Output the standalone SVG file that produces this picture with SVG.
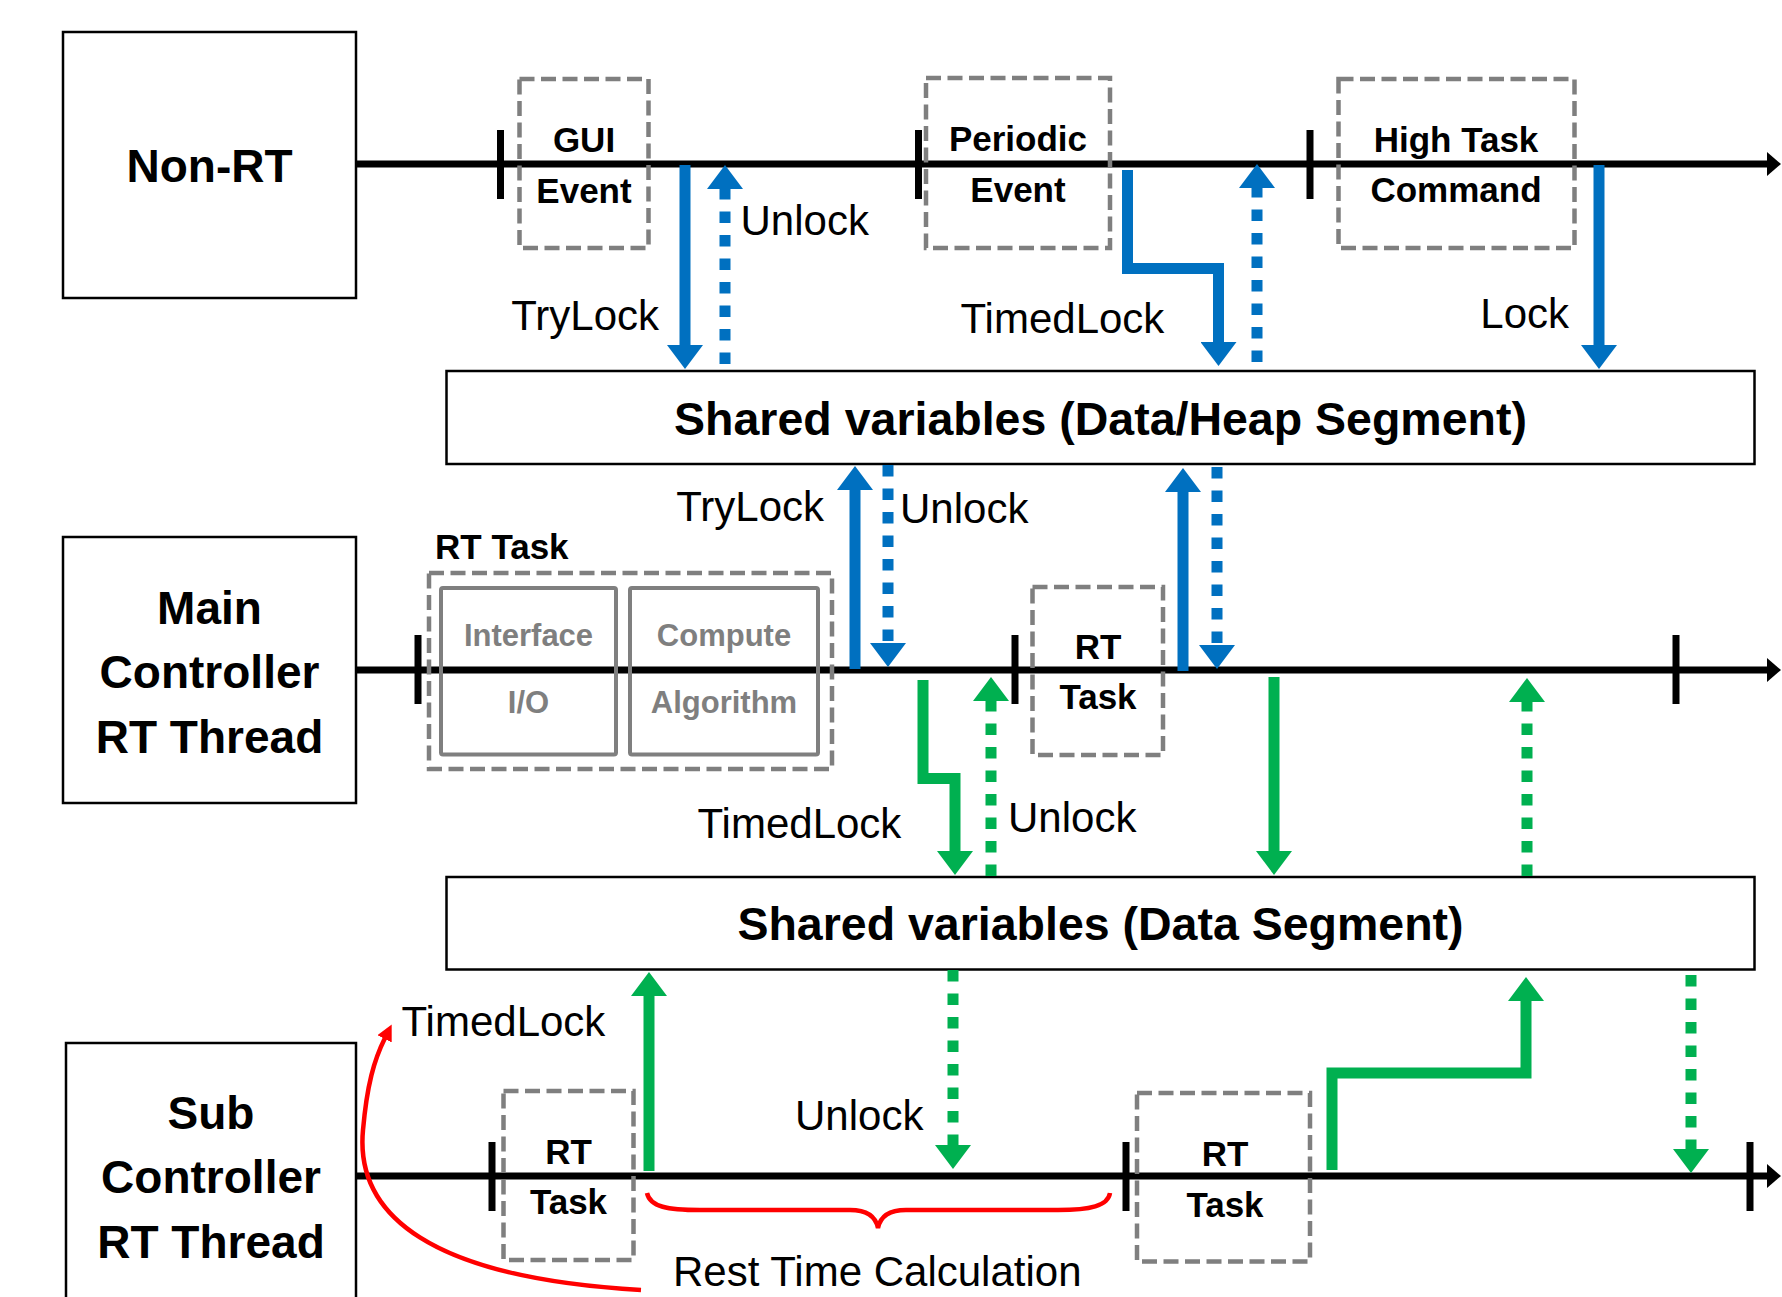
<svg xmlns="http://www.w3.org/2000/svg" width="1782" height="1297" viewBox="0 0 1782 1297">
<style>
.box{fill:#fff;stroke:#000;stroke-width:2.5}
.dbox{fill:none;stroke:#7f7f7f;stroke-width:4.5;stroke-dasharray:15 6.5}
.gbox{fill:none;stroke:#7f7f7f;stroke-width:4}
.tl{stroke:#000;stroke-width:7;fill:none}
.tick{stroke:#000;stroke-width:7}
.big{font-family:"Liberation Sans",Arial,sans-serif;font-weight:bold;font-size:46px;fill:#000}
.shared{font-family:"Liberation Sans",Arial,sans-serif;font-weight:bold;font-size:46.5px;fill:#000}
.lbl{font-family:"Liberation Sans",Arial,sans-serif;font-weight:bold;font-size:35px;fill:#000}
.glbl{font-family:"Liberation Sans",Arial,sans-serif;font-weight:bold;font-size:31px;fill:#7f7f7f}
.reg{font-family:"Liberation Sans",Arial,sans-serif;font-size:42px;fill:#000}
.mid{text-anchor:middle}
.end{text-anchor:end}
.b{stroke:#0070c0;stroke-width:11;fill:none}
.g{stroke:#00b050;stroke-width:11;fill:none}
.dot{stroke-dasharray:11.5 12}
.red{stroke:#ff0000;stroke-width:4.5;fill:none}
</style>
<defs>
<marker id="hb" markerUnits="userSpaceOnUse" markerWidth="24" markerHeight="36" viewBox="0 0 24 36" refX="1" refY="18" orient="auto"><path d="M0,0 L24,18 L0,36 z" fill="#0070c0"/></marker>
<marker id="hg" markerUnits="userSpaceOnUse" markerWidth="24" markerHeight="36" viewBox="0 0 24 36" refX="1" refY="18" orient="auto"><path d="M0,0 L24,18 L0,36 z" fill="#00b050"/></marker>
<marker id="hk" markerUnits="userSpaceOnUse" markerWidth="14" markerHeight="24" viewBox="0 0 14 24" refX="1" refY="12" orient="auto"><path d="M0,0 L14,12 L0,24 z" fill="#000"/></marker>
<marker id="hr" markerUnits="userSpaceOnUse" markerWidth="16" markerHeight="16" viewBox="0 0 16 16" refX="1" refY="8" orient="auto"><path d="M0,0 L16,8 L0,16 z" fill="#ff0000"/></marker>
</defs>
<rect width="1782" height="1297" fill="#fff"/>

<g id="timelines">
<line class="tl" x1="356" y1="164" x2="1768" y2="164" marker-end="url(#hk)"/>
<line class="tl" x1="356" y1="670" x2="1768" y2="670" marker-end="url(#hk)"/>
<line class="tl" x1="356" y1="1176" x2="1768" y2="1176" marker-end="url(#hk)"/>
<line class="tick" x1="500.5" y1="130" x2="500.5" y2="199"/>
<line class="tick" x1="918.5" y1="130" x2="918.5" y2="199"/>
<line class="tick" x1="1310" y1="130" x2="1310" y2="199"/>
<line class="tick" x1="418" y1="635" x2="418" y2="704"/>
<line class="tick" x1="1015" y1="635" x2="1015" y2="704"/>
<line class="tick" x1="1676" y1="635" x2="1676" y2="704"/>
<line class="tick" x1="492" y1="1142" x2="492" y2="1211"/>
<line class="tick" x1="1126" y1="1142" x2="1126" y2="1211"/>
<line class="tick" x1="1750" y1="1142" x2="1750" y2="1211"/>
</g>

<g id="non-rt">
<rect class="box" x="63" y="32" width="293" height="266"/>
<text class="big mid" x="209.5" y="182">Non-RT</text>
</g>
<g id="main-controller">
<rect class="box" x="63" y="537" width="293" height="266"/>
<text class="big mid" x="209.5" y="624">Main</text>
<text class="big mid" x="209.5" y="688">Controller</text>
<text class="big mid" x="209.5" y="753">RT Thread</text>
</g>
<g id="sub-controller">
<rect class="box" x="66" y="1043" width="290" height="300"/>
<text class="big mid" x="211" y="1129">Sub</text>
<text class="big mid" x="211" y="1193">Controller</text>
<text class="big mid" x="211" y="1258">RT Thread</text>
</g>

<g id="gui-event">
<rect class="dbox" x="519.5" y="79" width="129" height="169"/>
<text class="lbl mid" x="584" y="152">GUI</text>
<text class="lbl mid" x="584" y="203">Event</text>
</g>
<g id="periodic-event">
<rect class="dbox" x="926" y="78" width="184" height="170"/>
<text class="lbl mid" x="1018" y="151">Periodic</text>
<text class="lbl mid" x="1018" y="202">Event</text>
</g>
<g id="high-task-command">
<rect class="dbox" x="1338.5" y="79" width="236" height="169"/>
<text class="lbl mid" x="1456" y="152">High Task</text>
<text class="lbl mid" x="1456" y="202">Command</text>
</g>

<g id="shared-heap">
<rect class="box" x="446.5" y="371" width="1308" height="93"/>
<text class="shared mid" x="1100.5" y="435">Shared variables (Data/Heap Segment)</text>
</g>

<g id="rt-task-main">
<text class="lbl" x="435" y="559">RT Task</text>
<rect class="dbox" x="429" y="573" width="403" height="196"/>
<rect class="gbox" x="441" y="588" width="175" height="166.5" rx="2"/>
<rect class="gbox" x="630" y="588" width="188" height="166.5" rx="2"/>
<text class="glbl mid" x="528.5" y="646">Interface</text>
<text class="glbl mid" x="528.5" y="713">I/O</text>
<text class="glbl mid" x="724" y="646">Compute</text>
<text class="glbl mid" x="724" y="713">Algorithm</text>
</g>
<g id="rt-task-main-2">
<rect class="dbox" x="1032.5" y="587" width="130.5" height="168"/>
<text class="lbl mid" x="1098" y="659">RT</text>
<text class="lbl mid" x="1098" y="709">Task</text>
</g>

<g id="shared-data">
<rect class="box" x="446.5" y="877" width="1308" height="92.5"/>
<text class="shared mid" x="1100.5" y="940">Shared variables (Data Segment)</text>
</g>

<g id="rt-task-sub-1">
<rect class="dbox" x="503.5" y="1091" width="130" height="169"/>
<text class="lbl mid" x="568.5" y="1164">RT</text>
<text class="lbl mid" x="568.5" y="1214">Task</text>
</g>
<g id="rt-task-sub-2">
<rect class="dbox" x="1137" y="1093" width="173" height="168.5"/>
<text class="lbl mid" x="1225" y="1166">RT</text>
<text class="lbl mid" x="1225" y="1217">Task</text>
</g>

<g id="connectors">
<line class="b" x1="685" y1="165" x2="685" y2="346" marker-end="url(#hb)"/>
<line class="b dot" x1="725" y1="364" x2="725" y2="188" marker-end="url(#hb)"/>
<path class="b" d="M1127.5,170 V268.5 H1218.5 V343" marker-end="url(#hb)"/>
<line class="b dot" x1="1257" y1="362" x2="1257" y2="187" marker-end="url(#hb)"/>
<line class="b" x1="1599" y1="165" x2="1599" y2="346" marker-end="url(#hb)"/>
<line class="b" x1="855" y1="669" x2="855" y2="489" marker-end="url(#hb)"/>
<line class="b dot" x1="888" y1="465" x2="888" y2="644" marker-end="url(#hb)"/>
<line class="b" x1="1183" y1="671" x2="1183" y2="491" marker-end="url(#hb)"/>
<line class="b dot" x1="1217" y1="467" x2="1217" y2="646" marker-end="url(#hb)"/>

<path class="g" d="M923,680 V778.5 H955 V852" marker-end="url(#hg)"/>
<line class="g dot" x1="991" y1="876" x2="991" y2="700" marker-end="url(#hg)"/>
<line class="g" x1="1274" y1="677" x2="1274" y2="852" marker-end="url(#hg)"/>
<line class="g dot" x1="1527" y1="876" x2="1527" y2="701" marker-end="url(#hg)"/>
<line class="g" x1="649" y1="1171" x2="649" y2="995" marker-end="url(#hg)"/>
<line class="g dot" x1="953" y1="970" x2="953" y2="1146" marker-end="url(#hg)"/>
<path class="g" d="M1332,1170 V1073 H1526 V1000" marker-end="url(#hg)"/>
<line class="g dot" x1="1691" y1="975" x2="1691" y2="1150" marker-end="url(#hg)"/>

<path class="red" d="M641,1290 C430,1278 355,1215 363,1130 C367,1085 374,1060 385,1038" marker-end="url(#hr)"/>
<path class="red" d="M647,1193 C650,1207 668,1210 700,1210 L850,1210 C868,1210 876,1218 878,1228 C880,1218 888,1210 906,1210 L1058,1210 C1090,1210 1108,1206 1110,1193"/>
</g>

<g id="labels">
<text class="reg" x="740.5" y="235">Unlock</text>
<text class="reg end" x="659" y="330">TryLock</text>
<text class="reg" x="960.5" y="333">TimedLock</text>
<text class="reg end" x="1569" y="328">Lock</text>
<text class="reg end" x="824" y="521">TryLock</text>
<text class="reg" x="900" y="523">Unlock</text>
<text class="reg" x="697.5" y="838">TimedLock</text>
<text class="reg" x="1008" y="832">Unlock</text>
<text class="reg" x="401.5" y="1036">TimedLock</text>
<text class="reg" x="795" y="1130">Unlock</text>
<text class="reg" x="673" y="1286">Rest Time Calculation</text>
</g>
</svg>
